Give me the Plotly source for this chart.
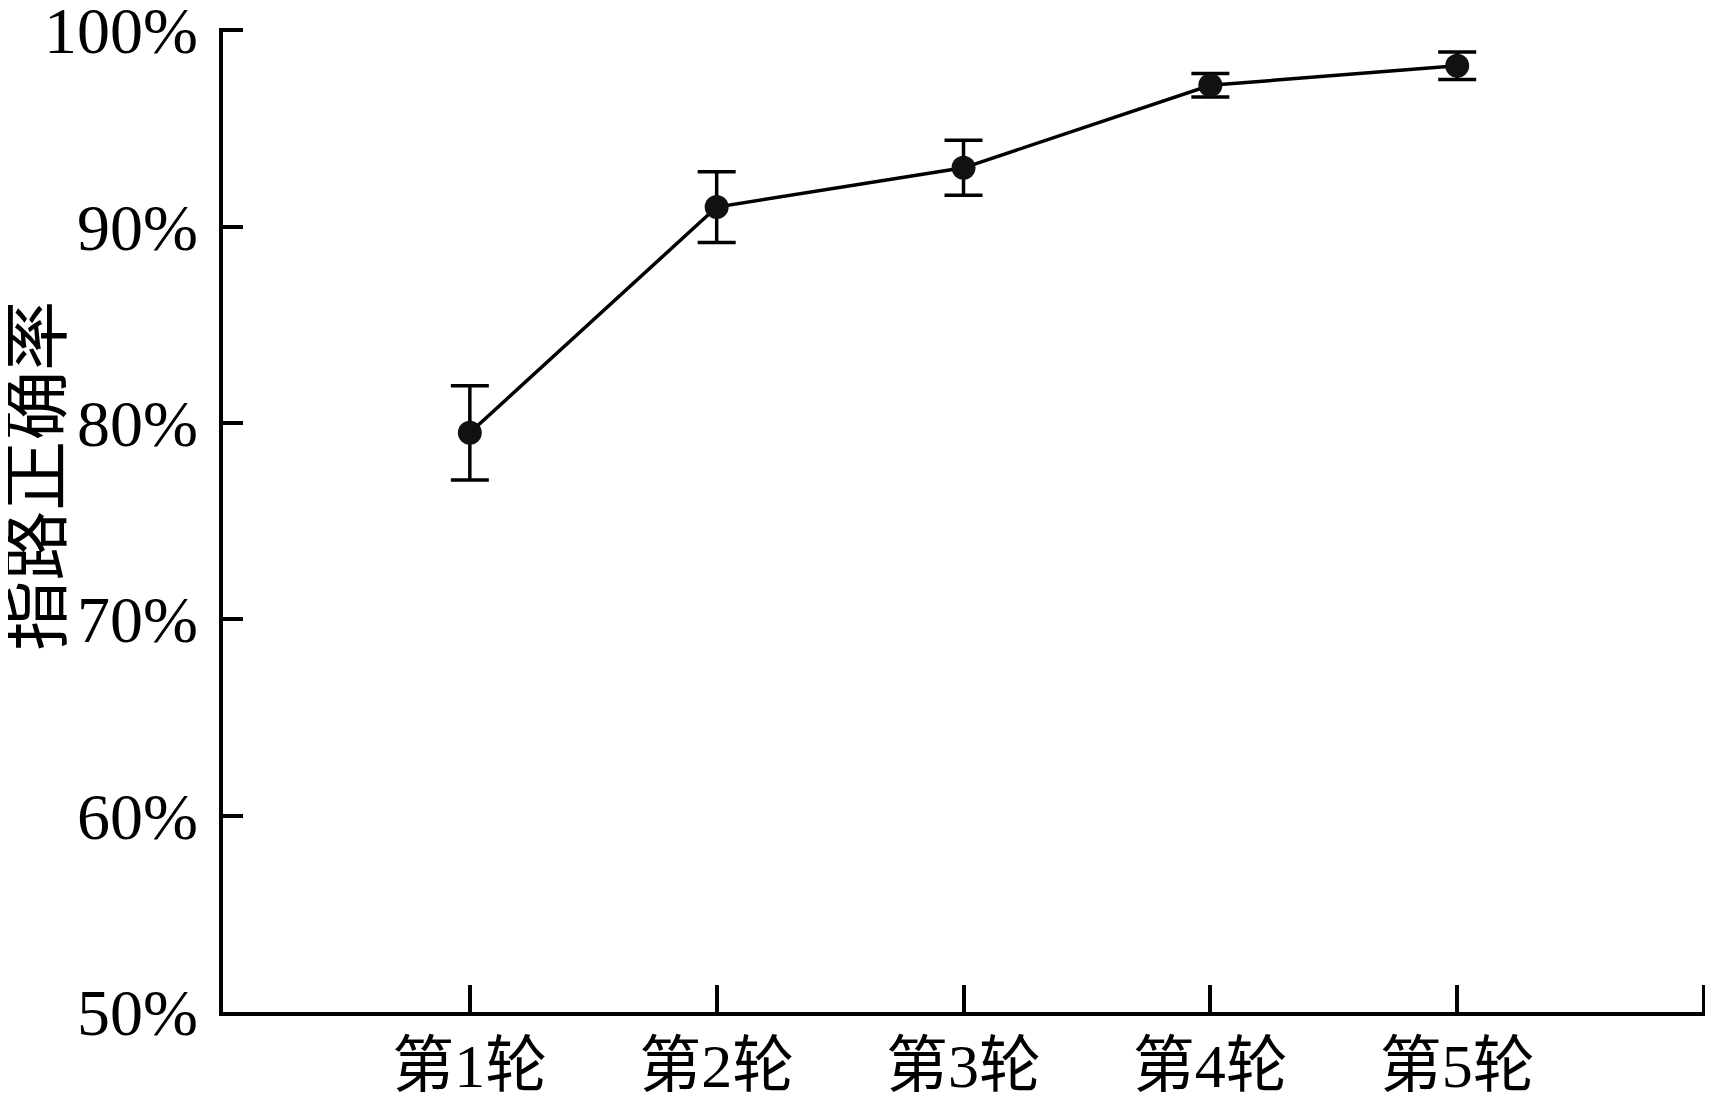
import plotly.graph_objects as go

rounds = ["第1轮", "第2轮", "第3轮", "第4轮", "第5轮"]
round_pos = [1, 2, 3, 4, 5]
accuracy = [79.5, 91.0, 93.0, 97.2, 98.2]
err = [2.4, 1.8, 1.4, 0.6, 0.7]
y_ticks = [50, 60, 70, 80, 90, 100]
y_labels = ["50%", "60%", "70%", "80%", "90%", "100%"]
y_title = "指路正确率"

FONT = "Liberation Serif, Noto Sans CJK SC"

fig = go.Figure()
fig.add_trace(go.Scatter(
    x=round_pos, y=accuracy, mode="lines+markers",
    line=dict(color="black", width=3.5),
    marker=dict(color="#111111", size=24),
    error_y=dict(type="data", array=err, visible=True,
                 color="black", thickness=3.5, width=19),
    showlegend=False, cliponaxis=False,
))

fig.update_layout(
    width=1705, height=1090,
    margin=dict(l=215, r=6, t=20, b=86),
    paper_bgcolor="white", plot_bgcolor="white",
    font=dict(family=FONT, color="black", size=66),
    xaxis=dict(
        range=[0, 6.012], tickvals=round_pos + [6], ticktext=rounds + [""],
        showline=True, linecolor="black", linewidth=3.5,
        ticks="inside", ticklen=27, tickwidth=3.5, tickcolor="black",
        showgrid=False, zeroline=False, automargin=False,
        tickfont=dict(family=FONT, size=62), ticklabelstandoff=-3,
        ticklabeloverflow="allow",
    ),
    yaxis=dict(
        range=[50, 100.12], tickvals=y_ticks, ticktext=y_labels,
        showline=True, linecolor="black", linewidth=3.5,
        ticks="inside", ticklen=20, tickwidth=3.5, tickcolor="black",
        showgrid=False, zeroline=False, automargin=False,
        tickfont=dict(family=FONT, size=66), ticklabelstandoff=8,
        ticklabeloverflow="allow",
    ),
    annotations=[dict(
        text=y_title, textangle=-90, showarrow=False,
        xref="paper", yref="paper", x=-0.1247, y=0.545,
        xanchor="center", yanchor="middle",
        font=dict(family=FONT, size=70, color="black"),
    )],
)

fig.write_html("out.html")
